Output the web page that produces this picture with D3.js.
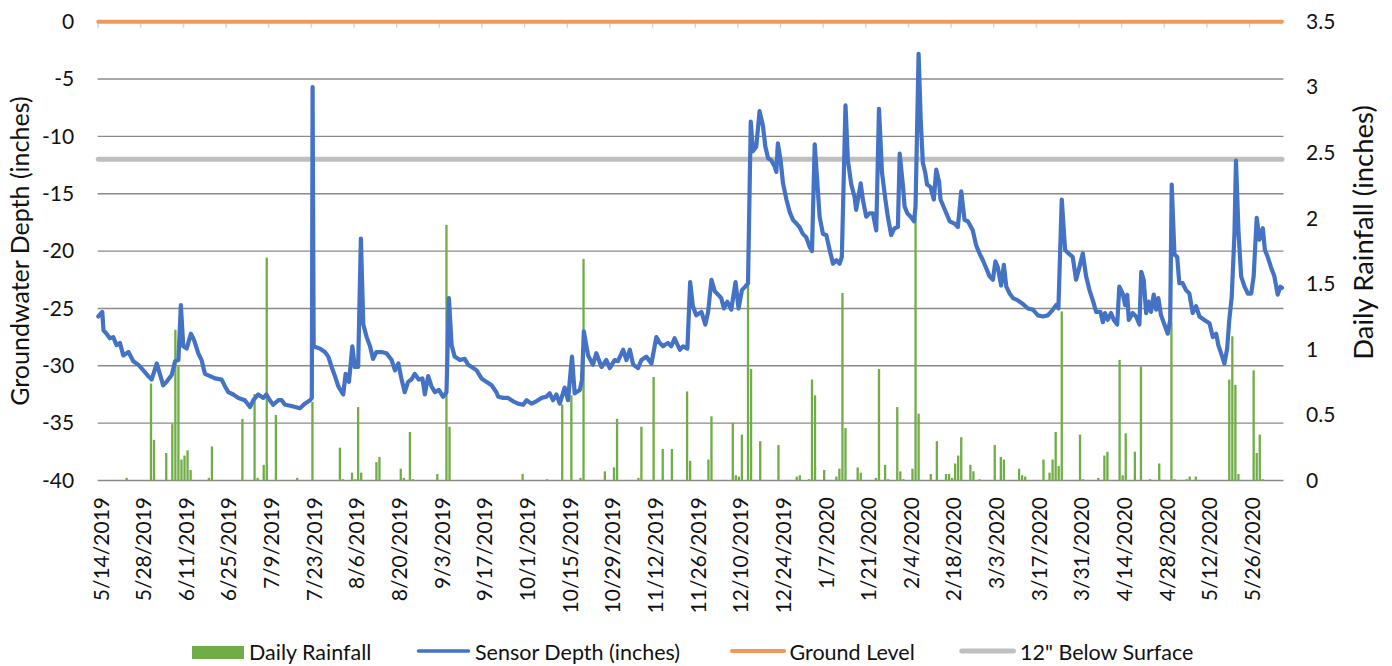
<!DOCTYPE html>
<html>
<head>
<meta charset="utf-8">
<script src="https://cdn.jsdelivr.net/npm/d3@7"></script>
<style>
  html, body { margin: 0; padding: 0; background: #fff; }
  svg { display: block; font-family: Lato, "Open Sans", sans-serif; }
</style>
</head>
<body>
<svg id="chart" width="1392" height="666"></svg>
<script>
// ---- Data ----------------------------------------------------------------
// Record start: 5/14/2019. Days are counted from that date.
const startDateText = "2019-05-14";

// Sensor depth readings (day offset, inches below ground surface)
const depthDay = [
  0.2, 1.5, 1.9, 2.9, 4.0, 5.1, 6.2, 7.3, 8.4, 10.1, 11.7, 13.3, 15.0, 16.6, 17.7, 19.4, 20.4, 21.5, 22.6, 24.3,
  25.4, 26.5, 27.3, 28.1, 29.2, 30.6, 31.7, 33.0, 34.1, 35.2, 36.9, 38.5, 40.7, 41.8, 42.9, 44.5, 46.2, 48.3, 50.0, 51.1,
  52.7, 54.4, 55.4, 56.5, 57.6, 59.3, 60.4, 61.5, 63.6, 66.4, 68.0, 69.7, 70.3, 70.55, 70.9, 72.9, 74.6, 75.7, 76.8, 77.9,
  79.0, 80.6, 81.4, 82.5, 83.6, 84.4, 85.5, 86.4, 87.2, 88.3, 89.4, 90.4, 91.5, 93.2, 94.8, 96.5, 97.6, 98.7, 99.7, 100.8,
  101.9, 103.0, 104.1, 105.4, 106.6, 107.4, 108.5, 109.6, 110.7, 112.0, 113.4, 114.5, 115.3, 116.2, 117.2, 118.9, 120.5, 121.6, 123.3, 124.4,
  126.0, 127.6, 129.3, 130.9, 131.5, 133.1, 134.7, 136.4, 138.0, 139.7, 140.8, 142.4, 144.0, 145.7, 147.3, 148.4, 149.5, 150.6, 151.7, 153.3,
  154.4, 155.7, 156.6, 158.3, 159.0, 159.6, 161.0, 162.6, 163.7, 165.4, 167.0, 168.1, 169.7, 170.8, 172.5, 173.6, 174.7, 175.8, 177.4, 178.5,
  180.1, 181.8, 183.4, 184.5, 185.6, 187.2, 188.3, 189.4, 191.1, 192.2, 193.6, 194.5, 195.4, 196.5, 198.2, 199.5, 200.4, 201.5, 202.6, 203.7,
  204.7, 205.6, 206.7, 208.0, 209.4, 210.4, 211.5, 212.6, 213.5, 214.4, 215.1, 216.2, 217.3, 218.4, 219.2, 220.1, 221.2, 222.2, 222.8, 223.3,
  224.2, 225.0, 226.1, 227.2, 228.3, 229.4, 230.4, 231.5, 232.6, 233.7, 234.5, 235.4, 236.2, 237.0, 238.1, 239.2, 240.3, 241.4, 242.5, 243.6,
  244.3, 245.5, 246.3, 247.4, 248.5, 249.0, 250.5, 251.2, 252.3, 253.4, 254.5, 255.6, 256.5, 257.5, 258.6, 259.4, 260.5, 261.6, 262.7, 263.3,
  264.4, 264.9, 265.8, 266.9, 268.0, 268.5, 269.5, 270.2, 270.9, 271.7, 272.3, 273.4, 274.5, 275.3, 276.2, 276.7, 277.5, 278.6, 279.7, 281.3,
  282.4, 283.5, 284.6, 285.7, 287.3, 288.4, 289.5, 290.6, 291.7, 292.8, 293.9, 294.7, 295.5, 296.6, 297.5, 298.3, 299.4, 300.5, 302.1, 303.7,
  305.4, 307.0, 308.7, 310.3, 311.9, 313.6, 314.7, 315.4, 316.5, 317.6, 318.7, 320.1, 321.2, 322.3, 323.4, 324.5, 325.6, 326.7, 327.8, 329.2,
  330.0, 330.7, 331.6, 332.7, 333.6, 334.7, 335.4, 336.5, 337.3, 338.0, 338.5, 339.8, 340.9, 342.0, 342.6, 343.4, 344.2, 345.0, 345.8, 346.7,
  347.5, 348.2, 349.1, 350.2, 351.3, 352.1, 352.6, 353.5, 354.4, 355.1, 356.2, 357.3, 358.4, 359.5, 360.6, 361.7, 363.3, 365.0, 366.1, 367.2,
  367.9, 368.8, 369.9, 370.8, 371.5, 372.3, 373.2, 373.7, 374.5, 375.4, 376.5, 377.6, 378.7, 379.5, 380.5, 381.4, 382.5, 383.2, 384.1, 385.2,
  386.3, 387.4, 388.3, 388.8
];
const depthInches = [
  -25.7, -25.3, -26.9, -27.2, -27.6, -27.5, -28.2, -28.0, -29.1, -28.8, -29.6, -29.9, -30.4, -30.9, -31.2, -29.8, -30.7, -31.7, -31.4, -30.8,
  -29.6, -29.5, -24.7, -28.3, -28.5, -27.2, -27.8, -28.9, -29.5, -30.7, -30.9, -31.1, -31.2, -31.8, -32.3, -32.5, -32.8, -33.0, -33.6, -33.0,
  -32.5, -32.8, -32.5, -33.0, -33.4, -33.0, -33.0, -33.4, -33.5, -33.7, -33.3, -33.0, -32.8, -5.7, -28.3, -28.5, -28.8, -29.2, -30.1, -30.9,
  -31.8, -32.5, -30.7, -31.4, -28.3, -30.1, -30.1, -18.9, -26.4, -27.5, -28.3, -29.4, -28.8, -28.8, -28.9, -29.5, -30.4, -29.8, -31.1, -32.3,
  -31.4, -31.2, -30.7, -31.2, -31.1, -32.5, -30.9, -31.8, -32.3, -32.1, -32.7, -32.3, -24.1, -28.2, -29.2, -29.5, -29.4, -29.9, -30.2, -30.4,
  -31.1, -31.4, -31.7, -32.3, -32.7, -32.8, -32.8, -33.1, -33.3, -33.4, -33.0, -33.3, -33.1, -32.8, -32.7, -32.4, -33.0, -32.5, -33.3, -31.9,
  -33.0, -29.2, -32.4, -32.1, -31.2, -27.0, -29.1, -29.9, -28.9, -30.1, -29.5, -30.2, -29.5, -29.6, -28.6, -29.5, -28.6, -29.9, -30.2, -29.5,
  -29.2, -29.8, -27.5, -28.0, -28.3, -28.0, -28.3, -27.6, -28.6, -28.3, -28.5, -22.7, -24.8, -25.6, -25.3, -26.4, -25.3, -22.5, -23.5, -23.8,
  -24.1, -25.0, -24.4, -25.1, -22.7, -25.0, -23.4, -23.1, -22.8, -8.7, -11.3, -10.9, -7.8, -9.1, -10.9, -11.9, -12.1, -12.6, -13.1, -10.6,
  -12.1, -14.1, -15.5, -16.6, -17.3, -17.6, -17.9, -18.5, -18.8, -19.6, -20.0, -10.7, -13.8, -17.0, -18.5, -18.6, -19.9, -21.1, -20.8, -21.1,
  -20.5, -7.3, -12.1, -14.2, -15.3, -16.4, -14.1, -15.5, -17.0, -16.7, -16.7, -18.2, -7.6, -13.2, -15.5, -17.0, -18.6, -18.0, -17.9, -11.5,
  -14.4, -16.1, -16.7, -17.0, -17.4, -16.1, -2.8, -8.6, -12.3, -13.2, -14.2, -14.4, -15.5, -12.9, -13.9, -15.5, -16.0, -16.7, -17.4, -17.6,
  -17.9, -14.8, -17.3, -17.4, -18.2, -19.5, -20.2, -20.8, -21.5, -22.2, -22.5, -20.9, -21.4, -23.0, -21.2, -23.1, -23.7, -24.1, -24.3, -24.6,
  -25.0, -25.1, -25.6, -25.7, -25.6, -25.1, -24.7, -25.0, -15.5, -19.9, -20.2, -20.5, -22.5, -21.4, -20.2, -22.2, -23.4, -24.3, -25.3, -25.3,
  -26.2, -25.4, -26.0, -25.4, -26.0, -26.4, -23.1, -23.7, -24.7, -23.8, -26.0, -25.4, -25.7, -26.4, -21.8, -22.5, -25.4, -24.4, -25.3, -23.8,
  -25.1, -24.1, -25.6, -26.4, -27.2, -26.0, -14.2, -20.3, -20.5, -22.8, -22.8, -23.4, -23.7, -25.4, -24.8, -25.7, -26.0, -26.3, -27.5, -27.2,
  -28.2, -28.9, -29.8, -28.5, -26.0, -24.0, -18.5, -12.1, -18.2, -22.2, -23.1, -23.7, -23.7, -22.2, -17.1, -19.0, -18.0, -19.9, -20.5, -21.4,
  -22.2, -23.8, -23.1, -23.2
];

// Daily rainfall totals (day offset, inches); days not listed had no rain
const rainDay = [
  9, 17, 18, 22, 24, 25, 26, 27, 28, 29, 30, 36, 37, 47, 51, 52, 54, 55, 58, 65,
  70, 79, 80, 83, 84, 85, 86, 91, 92, 99, 100, 102, 103, 111, 114, 115, 139, 147, 152, 155,
  158, 159, 166, 169, 170, 177, 178, 182, 185, 188, 193, 194, 200, 201, 208, 209, 210, 211, 213, 214,
  217, 223, 229, 230, 233, 234, 235, 238, 242, 243, 244, 245, 249, 250, 255, 256, 258, 259, 262, 263,
  264, 267, 268, 269, 273, 275, 278, 279, 280, 281, 282, 283, 286, 287, 289, 294, 296, 297, 302, 303,
  304, 310, 312, 313, 314, 315, 316, 322, 323, 328, 330, 331, 335, 336, 337, 340, 342, 345, 348, 352,
  353, 357, 358, 360, 371, 372, 373, 374, 379, 380, 381, 382
];
const rainInches = [
  0.02, 0.74, 0.31, 0.21, 0.43, 1.15, 0.87, 0.16, 0.19, 0.23, 0.08, 0.02, 0.26, 0.47, 0.66, 0.02, 0.12, 1.70, 0.50, 0.02,
  0.60, 0.25, 0.01, 0.06, 0.01, 0.56, 0.06, 0.14, 0.18, 0.09, 0.02, 0.37, 0.01, 0.05, 1.95, 0.41, 0.05, 0.01, 0.58, 0.65,
  0.02, 1.69, 0.07, 0.10, 0.47, 0.02, 0.41, 0.79, 0.24, 0.24, 0.68, 0.15, 0.16, 0.49, 0.44, 0.04, 0.03, 0.35, 1.50, 0.85,
  0.30, 0.27, 0.03, 0.04, 0.01, 0.77, 0.65, 0.08, 0.03, 0.09, 1.43, 0.40, 0.10, 0.06, 0.02, 0.85, 0.12, 0.01, 0.56, 0.07,
  0.01, 0.09, 2.04, 0.51, 0.05, 0.30, 0.05, 0.05, 0.02, 0.13, 0.19, 0.33, 0.12, 0.07, 0.01, 0.27, 0.18, 0.16, 0.09, 0.04,
  0.03, 0.16, 0.06, 0.16, 0.37, 0.11, 1.29, 0.35, 0.01, 0.02, 0.19, 0.22, 0.92, 0.04, 0.36, 0.22, 0.87, 0.01, 0.13, 1.21,
  0.01, 0.01, 0.03, 0.03, 0.77, 1.10, 0.73, 0.05, 0.84, 0.21, 0.35, 0.01
];

// Reference levels (inches)
const groundLevel = 0;
const belowSurface12 = -12;

// Axis ticks
const dateTickLabels = [
  "5/14/2019", "5/28/2019", "6/11/2019", "6/25/2019", "7/9/2019", "7/23/2019", "8/6/2019",
  "8/20/2019", "9/3/2019", "9/17/2019", "10/1/2019", "10/15/2019", "10/29/2019", "11/12/2019",
  "11/26/2019", "12/10/2019", "12/24/2019", "1/7/2020", "1/21/2020", "2/4/2020", "2/18/2020",
  "3/3/2020", "3/17/2020", "3/31/2020", "4/14/2020", "4/28/2020", "5/12/2020", "5/26/2020"
];
const depthTicks = [0, -5, -10, -15, -20, -25, -30, -35, -40];
const rainTicks = [0, 0.5, 1, 1.5, 2, 2.5, 3, 3.5];

// Series names
const seriesNames = ["Daily Rainfall", "Sensor Depth (inches)", "Ground Level", "12\" Below Surface"];
const axisTitleLeft = "Groundwater Depth (inches)";
const axisTitleRight = "Daily Rainfall (inches)";

// ---- Layout --------------------------------------------------------------
const DAY = 864e5;
const start = new Date(startDateText + "T00:00:00Z");
const dayToDate = d => new Date(start.getTime() + d * DAY);
const parseTick = d3.utcParse("%m/%d/%Y");

const plot = { left: 97.7, right: 1283.5, top: 21.7, bottom: 480.5 };
const axisEnd = dayToDate(389.3);

const colors = {
  rain: "#70AD47",
  depth: "#4472C4",
  ground: "#F0985A",
  ref: "#BFBFBF",
  grid: "#8A8A8A",
  tick: "#D4D4D4",
  text: "#111111"
};

const x = d3.scaleUtc().domain([start, axisEnd]).range([plot.left, plot.right]);
const yDepth = d3.scaleLinear().domain([-40, 0]).range([plot.bottom, plot.top]);
const yRain = d3.scaleLinear().domain([0, 3.5]).range([plot.bottom, plot.top]);

const svg = d3.select("#chart");

// Horizontal gridlines from the depth axis
svg.append("g")
  .selectAll("line")
  .data(depthTicks.filter(v => v !== 0))
  .join("line")
  .attr("x1", plot.left).attr("x2", plot.right)
  .attr("y1", d => yDepth(d)).attr("y2", d => yDepth(d))
  .attr("stroke", colors.grid).attr("stroke-width", 1.4);

// Date tick marks hanging below the zero line
const tickDates = dateTickLabels.map(parseTick);
const topAxis = svg.append("g")
  .attr("transform", `translate(0,${plot.top})`)
  .call(d3.axisTop(x).tickValues(tickDates).tickSize(-6).tickFormat(""));
topAxis.select(".domain").remove();
topAxis.selectAll(".tick line").attr("stroke", colors.tick).attr("stroke-width", 1.5);

// Rainfall bars (secondary axis)
const barW = 2.3;
svg.append("g")
  .selectAll("rect")
  .data(rainDay.map((d, i) => ({ day: d, v: rainInches[i] })))
  .join("rect")
  .attr("x", d => x(dayToDate(d.day + 0.5)) - barW / 2)
  .attr("width", barW)
  .attr("y", d => yRain(d.v))
  .attr("height", d => yRain(0) - yRain(d.v))
  .attr("fill", colors.rain);

// Constant reference levels spanning the sensor record
const firstDay = depthDay[0], lastDay = depthDay[depthDay.length - 1];
function refLine(level, color, width) {
  svg.append("line")
    .attr("x1", x(dayToDate(firstDay))).attr("x2", x(dayToDate(lastDay)))
    .attr("y1", yDepth(level)).attr("y2", yDepth(level))
    .attr("stroke", color).attr("stroke-width", width)
    .attr("stroke-linecap", "round");
}
refLine(belowSurface12, colors.ref, 5);
refLine(groundLevel, colors.ground, 4);

// Sensor depth line
const depthPoints = depthDay.map((d, i) => ({ t: dayToDate(d), v: depthInches[i] }));
svg.append("path")
  .datum(depthPoints)
  .attr("fill", "none")
  .attr("stroke", colors.depth)
  .attr("stroke-width", 4.2)
  .attr("stroke-linejoin", "round")
  .attr("stroke-linecap", "round")
  .attr("d", d3.line().x(d => x(d.t)).y(d => yDepth(d.v)));

// Left axis labels (plain hyphen for negatives)
const leftAxis = svg.append("g")
  .attr("transform", `translate(${plot.left},0)`)
  .call(d3.axisLeft(yDepth).tickValues(depthTicks).tickSize(0).tickPadding(23.5).tickFormat(d => String(d)));
leftAxis.select(".domain").remove();
leftAxis.selectAll("text").attr("font-size", 21).attr("fill", colors.text).attr("font-family", "Lato");

// Right axis labels
const rightAxis = svg.append("g")
  .attr("transform", `translate(${plot.right},0)`)
  .call(d3.axisRight(yRain).tickValues(rainTicks).tickSize(0).tickPadding(22.5).tickFormat(d => String(d)));
rightAxis.select(".domain").remove();
rightAxis.selectAll("text").attr("font-size", 21).attr("fill", colors.text).attr("font-family", "Lato");

// Rotated date labels below the plot
const bottomAxis = svg.append("g")
  .attr("transform", `translate(0,${plot.bottom})`)
  .call(d3.axisBottom(x).tickValues(tickDates).tickSize(0).tickFormat((d, i) => dateTickLabels[i]));
bottomAxis.select(".domain").remove();
bottomAxis.selectAll("text")
  .attr("font-size", 21).attr("fill", colors.text).attr("font-family", "Lato")
  .attr("text-anchor", "end")
  .attr("transform", "rotate(-90)")
  .attr("x", -16.5).attr("y", 3).attr("dy", "0.35em");

// Axis titles
svg.append("text")
  .attr("transform", `translate(20,${(plot.top + plot.bottom) / 2}) rotate(-90)`)
  .attr("text-anchor", "middle").attr("dy", "0.35em")
  .attr("font-size", 25).attr("fill", colors.text)
  .text(axisTitleLeft);
svg.append("text")
  .attr("transform", `translate(1363,232.5) rotate(-90)`)
  .attr("text-anchor", "middle").attr("dy", "0.35em")
  .attr("font-size", 27.5).attr("fill", colors.text)
  .text(axisTitleRight);

// Legend
const legend = svg.append("g").attr("font-size", 21.5).attr("fill", colors.text);
legend.append("rect").attr("x", 192).attr("y", 646).attr("width", 52).attr("height", 13).attr("fill", colors.rain);
legend.append("text").attr("x", 249).attr("y", 660).text(seriesNames[0]);
const keyLines = [
  { x1: 418.5, x2: 468.5, color: colors.depth, w: 3.5, tx: 475, name: seriesNames[1] },
  { x1: 732, x2: 784, color: colors.ground, w: 4, tx: 789.5, name: seriesNames[2] },
  { x1: 961.8, x2: 1013.5, color: colors.ref, w: 5, tx: 1020, name: seriesNames[3] }
];
keyLines.forEach(k => {
  legend.append("line").attr("x1", k.x1).attr("x2", k.x2).attr("y1", 651).attr("y2", 651)
    .attr("stroke", k.color).attr("stroke-width", k.w).attr("stroke-linecap", "round");
  legend.append("text").attr("x", k.tx).attr("y", 660).text(k.name);
});
</script>
</body>
</html>
